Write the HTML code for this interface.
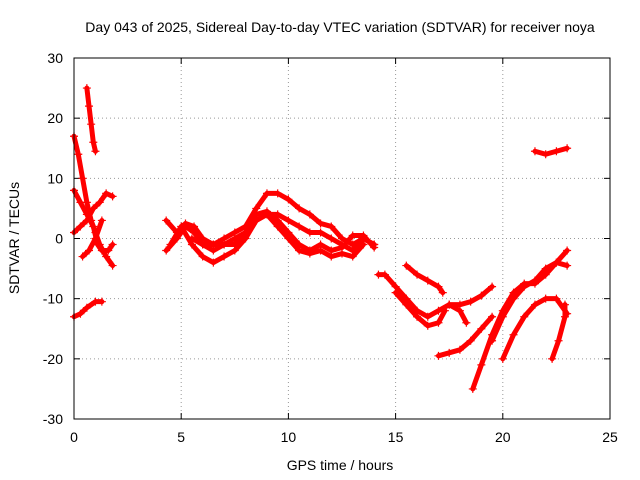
<!DOCTYPE html>
<html><head><meta charset="utf-8"><style>
body{margin:0;background:#fff}
svg{display:block;font-family:"Liberation Sans",sans-serif;font-size:14px}
</style></head><body>
<svg id="c" width="640" height="480" xmlns="http://www.w3.org/2000/svg">
<rect width="640" height="480" fill="#fff"/>
<text x="340" y="32" text-anchor="middle">Day 043 of 2025, Sidereal Day-to-day VTEC variation (SDTVAR) for receiver noya</text>
<text x="340" y="470" text-anchor="middle">GPS time / hours</text>
<text transform="translate(19,238) rotate(-90)" text-anchor="middle">SDTVAR / TECUs</text>
<g id="grid"></g><g id="ticks"></g><g id="series"></g>
<rect x="74" y="58" width="536" height="361" fill="none" stroke="#000" stroke-width="1"/>
</svg>
<script>
const xTicks=[0,5,10,15,20,25];
const yTicks=[-30,-20,-10,0,10,20,30];
const track1=[[0.6,25],[0.7,22],[0.8,19],[0.9,16],[1.0,14.5]];
const track2=[[0,17],[0.2,14],[0.4,10],[0.6,6],[0.8,3],[1.0,1],[1.2,-1],[1.5,-3],[1.8,-4.5]];
const track3=[[0,8],[0.3,6],[0.6,4],[0.9,2],[1.1,-1],[1.3,-2],[1.6,-2],[1.8,-1]];
const track4=[[0,1],[0.3,2],[0.6,3],[0.9,5],[1.2,6],[1.5,7.5],[1.8,7]];
const track5=[[0,-13],[0.3,-12.5],[0.6,-11.5],[1.0,-10.5],[1.3,-10.5]];
const track6=[[0.4,-3],[0.7,-2],[1.0,0],[1.3,3]];
const trackA=[[4.3,3],[4.8,1],[5.2,2.5],[5.6,2],[6,0],[6.5,-1],[7,0],[7.5,1],[8,2],[8.5,5],[9,7.5],[9.5,7.5],[10,6.5],[10.5,5],[11,4],[11.5,2.5],[12,2],[12.5,0],[13,-1],[13.5,0],[14,-1]];
const trackB=[[4.3,-2],[4.8,0],[5.2,2],[5.6,1],[6,-1],[6.5,-2],[7,-1],[7.5,0],[8,1],[8.5,3],[9,4],[9.5,4],[10,3],[10.5,2],[11,1],[11.5,1],[12,0],[12.5,-1],[13,-2],[13.5,0],[14,-1]];
const trackC=[[4.5,-1],[5,2],[5.5,-1],[6,-3],[6.5,-4],[7,-3],[7.5,-2],[8,0],[8.5,3],[9,4],[9.5,2],[10,0],[10.5,-2],[11,-2.5],[11.5,-2],[12,-3],[12.5,-2.5],[13,-3],[13.5,-1]];
const trackD=[[5.5,0],[6,-1],[6.5,-1],[7,-1],[7.5,-1],[8,1],[8.5,4],[9,4.5],[9.5,3],[10,1],[10.5,-1],[11,-2],[11.5,-1],[12,-2],[12.5,-1.5],[13,0.5],[13.5,0.5],[14,-1.5]];
const trackE=[[14.2,-6],[14.5,-6],[15,-8],[15.5,-10],[16,-12],[16.5,-13],[17,-12],[17.5,-11],[18,-12],[18.3,-14]];
const trackF=[[15,-9],[15.5,-11],[16,-13],[16.5,-14.5],[17,-14],[17.3,-12]];
const trackG=[[15.5,-4.5],[16,-6],[16.5,-7],[17,-8],[17.2,-9]];
const trackH=[[17,-19.5],[17.5,-19],[18,-18.5],[18.5,-17],[19,-15],[19.5,-13]];
const trackI=[[17.5,-11],[18,-11],[18.5,-10.5],[19,-9.5],[19.5,-8]];
const trackJ=[[18.6,-25],[19,-21],[19.5,-16],[20,-12],[20.5,-9],[21,-7.5],[21.5,-7.5],[22,-6],[22.5,-4],[23,-2]];
const trackK=[[19.5,-17],[20,-13],[20.5,-10],[21,-8],[21.5,-7],[22,-5],[22.5,-4],[23,-4.5]];
const trackL=[[20,-20],[20.5,-16],[21,-13],[21.5,-11],[22,-10],[22.5,-10],[23,-12.5]];
const trackM=[[22.3,-20],[22.6,-17],[22.9,-13],[22.9,-11]];
const trackN=[[21.5,14.5],[22,14],[22.5,14.5],[23,15]];
const tracks=[track1,track2,track3,track4,track5,track6,trackA,trackB,trackC,trackD,trackE,trackF,trackG,trackH,trackI,trackJ,trackK,trackL,trackM,trackN];
const NS="http://www.w3.org/2000/svg";
const X=v=>74+v*(536/25);
const Y=v=>238.5-v*(361/60);
function mk(t,a){const e=document.createElementNS(NS,t);for(const k in a)e.setAttribute(k,a[k]);return e;}
const g=document.getElementById('grid'),tk=document.getElementById('ticks'),s=document.getElementById('series');
xTicks.forEach(v=>{
 if(v>0&&v<25){const l=mk('line',{x1:X(v),x2:X(v),y1:58,y2:419,stroke:'#999','stroke-dasharray':'1,3'});
 g.appendChild(l);}
 const t=mk('text',{x:X(v),y:442,'text-anchor':'middle'});t.textContent=v;
 tk.appendChild(t);
 tk.appendChild(mk('line',{x1:X(v),x2:X(v),y1:419,y2:413,stroke:'#000'}));
 tk.appendChild(mk('line',{x1:X(v),x2:X(v),y1:58,y2:64,stroke:'#000'}));
});
yTicks.forEach(v=>{
 if(v>-30&&v<30){const l=mk('line',{x1:74,x2:610,y1:Y(v),y2:Y(v),stroke:'#999','stroke-dasharray':'1,3'});
 g.appendChild(l);}
 const t=mk('text',{x:63,y:Y(v)+5,'text-anchor':'end'});t.textContent=v;
 tk.appendChild(t);
 tk.appendChild(mk('line',{x1:74,x2:80,y1:Y(v),y2:Y(v),stroke:'#000'}));
 tk.appendChild(mk('line',{x1:604,x2:610,y1:Y(v),y2:Y(v),stroke:'#000'}));
});
tracks.forEach((tr,i)=>{
 const grp=mk('g',{});
 
 
 const pl=mk('polyline',{points:tr.map(p=>X(p[0])+','+Y(p[1])).join(' '),fill:'none',stroke:'#f00','stroke-width':5,'stroke-linejoin':'round','stroke-linecap':'round'});
 grp.appendChild(pl);
 tr.forEach(p=>{
  const x=X(p[0]),y=Y(p[1]);
  grp.appendChild(mk('path',{d:`M${x-4},${y}H${x+4}M${x},${y-4}V${y+4}`,stroke:'#f00','stroke-width':1.2}));
 });
 s.appendChild(grp);
});
</script>
</body></html>
